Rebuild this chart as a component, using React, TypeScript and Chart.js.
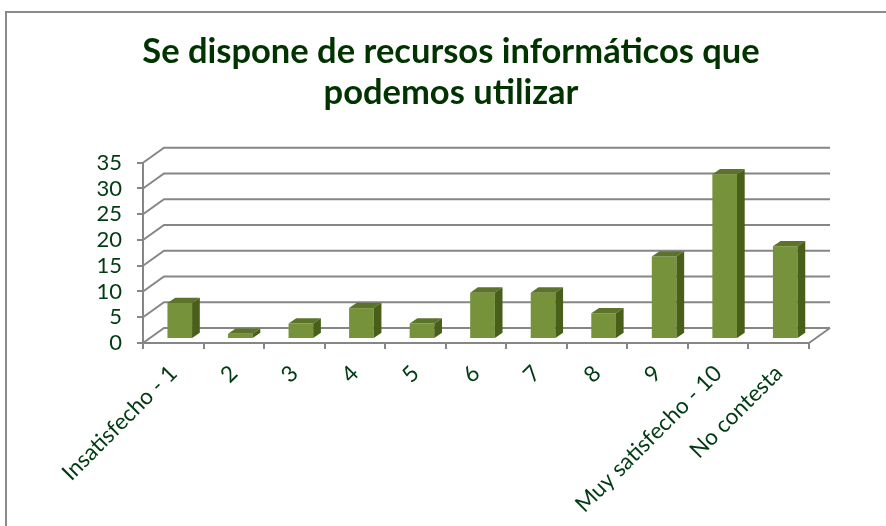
import React, { useEffect, useRef } from "react";
import { Chart, registerables } from "chart.js";

Chart.register(...registerables);

const titleLines = ["Se dispone de recursos informáticos que", "podemos utilizar"];
const categories = ["Insatisfecho - 1", "2", "3", "4", "5", "6", "7", "8", "9", "Muy satisfecho - 10", "No contesta"];
const values = [7, 1, 3, 6, 3, 9, 9, 5, 16, 32, 18];
const yMax = 35;
const yStep = 5;

const GRID = "#868686";
const TEXT = "#003b12";
const TITLE = "#003300";
const FRONT = "#76923a";
const TOP = "#5c7429";
const SIDE = "#475f18";

const wallDx = 21;
const wallDy = -15;
const barShiftX = 6.5;
const barShiftY = -4;
const barDepthX = 7.7;
const barDepthY = -5.3;

const threeD = {
  id: "threeD",
  beforeDraw(chart: any) {
    const { ctx } = chart;
    ctx.save();
    ctx.strokeStyle = "#8a8a8a";
    ctx.lineWidth = 2;
    ctx.beginPath();
    ctx.moveTo(6, 530);
    ctx.lineTo(6, 12);
    ctx.lineTo(890, 12);
    ctx.stroke();
    ctx.restore();
  },
  beforeDatasetsDraw(chart: any) {
    const { ctx, scales } = chart;
    const x = scales.x;
    const y = scales.y;
    ctx.save();
    ctx.strokeStyle = GRID;
    ctx.lineWidth = 2;
    ctx.beginPath();
    for (const t of y.ticks) {
      const py = y.getPixelForValue(t.value);
      ctx.moveTo(x.left, py);
      ctx.lineTo(x.left + wallDx, py + wallDy);
      ctx.lineTo(x.right + wallDx, py + wallDy);
    }
    ctx.moveTo(x.right, y.bottom);
    ctx.lineTo(x.right + wallDx, y.bottom + wallDy);
    ctx.stroke();
    ctx.restore();
  },
  beforeDatasetDraw(chart: any) {
    chart.ctx.save();
    chart.ctx.translate(barShiftX, barShiftY);
  },
  afterDatasetDraw(chart: any, args: any) {
    const { ctx } = chart;
    const meta = chart.getDatasetMeta(args.index);
    for (const el of meta.data) {
      const { x, y, width, base } = el.getProps(["x", "y", "width", "base"], true);
      const l = x - width / 2;
      const r = x + width / 2;
      ctx.fillStyle = TOP;
      ctx.beginPath();
      ctx.moveTo(l, y);
      ctx.lineTo(l + barDepthX, y + barDepthY);
      ctx.lineTo(r + barDepthX, y + barDepthY);
      ctx.lineTo(r, y);
      ctx.closePath();
      ctx.fill();
      ctx.fillStyle = SIDE;
      ctx.beginPath();
      ctx.moveTo(r, y);
      ctx.lineTo(r + barDepthX, y + barDepthY);
      ctx.lineTo(r + barDepthX, base + barDepthY);
      ctx.lineTo(r, base);
      ctx.closePath();
      ctx.fill();
    }
    ctx.restore();
  },
};

export default function App() {
  const ref = useRef<HTMLCanvasElement>(null);
  useEffect(() => {
    const chart = new Chart(ref.current!, {
      type: "bar",
      data: {
        labels: categories,
        datasets: [
          {
            data: values,
            backgroundColor: FRONT,
            borderWidth: 0,
            categoryPercentage: 1,
            barPercentage: 0.407,
            clip: false,
          } as any,
        ],
      },
      options: {
        animation: false,
        responsive: false,
        layout: { padding: { left: 93, right: 77, top: 0, bottom: 0 } },
        plugins: {
          legend: { display: false },
          tooltip: { enabled: false },
          title: {
            display: true,
            text: titleLines,
            color: TITLE,
            font: { family: "Lato", size: 34.5, weight: "bold", lineHeight: 1.17 },
            padding: { top: 32, bottom: 50 },
          },
        },
        scales: {
          x: {
            afterFit(s: any) {
              s.height = 183;
              s.paddingLeft = 0;
              s.paddingRight = 0;
            },
            grid: { drawOnChartArea: false, color: GRID, lineWidth: 2, tickLength: 6, offset: true },
            border: { color: GRID, width: 2 },
            ticks: {
              color: TEXT,
              font: { family: "Lato", size: 22.5 },
              maxRotation: 45,
              minRotation: 45,
              autoSkip: false,
              padding: 11,
            },
          },
          y: {
            min: 0,
            max: yMax,
            afterFit(s: any) {
              s.width = 50;
              s.paddingTop = 0;
              s.paddingBottom = 0;
            },
            grid: { drawOnChartArea: false, color: GRID, lineWidth: 2, tickLength: 6 },
            border: { color: GRID, width: 2 },
            ticks: {
              stepSize: yStep,
              autoSkip: false,
              color: TEXT,
              font: { family: "Lato", size: 22 },
              padding: 15,
            },
          },
        },
      },
      plugins: [threeD],
    });
    return () => chart.destroy();
  }, []);
  return (
    <div style={{ position: "fixed", left: 0, top: 0, width: 886, height: 526, background: "#fff" }}>
      <canvas ref={ref} width={886} height={526} style={{ display: "block", filter: "blur(0.4px)" }} />
    </div>
  );
}
